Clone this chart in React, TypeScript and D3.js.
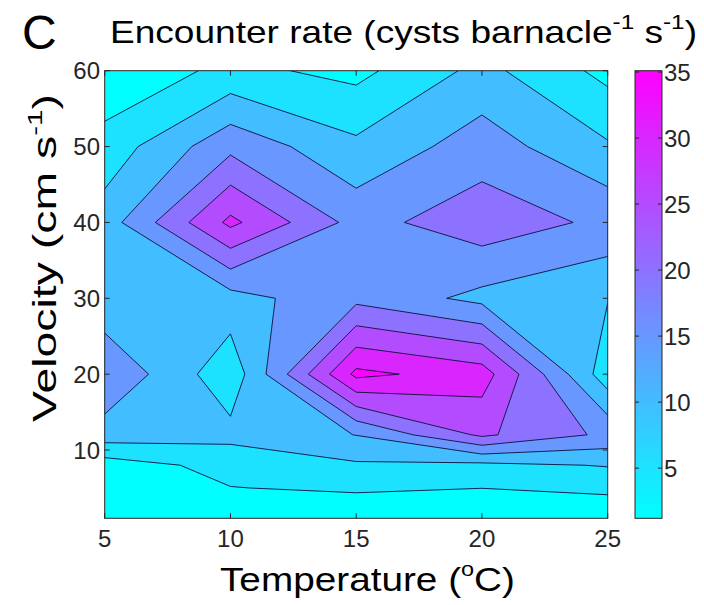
import React from "react";
import * as d3 from "d3";

// ---------------- data ----------------
const temperatures = [5, 10, 15, 20, 25]; // °C (grid columns)
const velocities = [1, 5, 8, 12, 20, 30, 40, 50, 60]; // cm s-1 (grid rows)

// Encounter rate (cysts barnacle-1 s-1) at each temperature, one array per velocity
const rateV1 = [1.2, 1.5, 1.3, 1.4, 1.2];
const rateV5 = [1.8, 4.88, 5.7, 5.04, 6.1];
const rateV8 = [2.45, 6.7, 9.3, 8.7, 10.3];
const rateV12 = [12.65, 11.5, 15.1, 25.9, 18.85];
const rateV20 = [19.5, 6.6, 36.3, 32.5, 7.0];
const rateV30 = [11.2, 13.0, 18.6, 13.6, 10.2];
const rateV40 = [12.45, 31.2, 18.2, 22.9, 18.9];
const rateV50 = [6.9, 18.6, 11.1, 17.5, 10.6];
const rateV60 = [1.2, 6.3, 3.57, 11.5, 3.5];

const contourLevels = [5, 10, 15, 20, 25, 30, 35];
const xTicks = [5, 10, 15, 20, 25];
const yTicks = [10, 20, 30, 40, 50, 60];
const colorbarTicks = [5, 10, 15, 20, 25, 30, 35];
const colorRange = [1.2, 35.1];
const xDomain = [5, 25];
const yDomain = [1, 60];

// ---------------- layout ----------------
const W = 704;
const H = 605;
const P = { left: 104.7, right: 607.7, top: 70.7, bottom: 518.3 };
const CB = { left: 635, right: 662 };
const FONT = "'Liberation Sans', Arial, Helvetica, sans-serif";

const cool = (v: number) => {
  const t = Math.max(0, Math.min(1, (v - colorRange[0]) / (colorRange[1] - colorRange[0])));
  return d3.rgb(255 * t, 255 * (1 - t), 255).formatHex();
};

export default function App() {
  const grid = [rateV1, rateV5, rateV8, rateV12, rateV20, rateV30, rateV40, rateV50, rateV60];
  const nx = temperatures.length;
  const ny = velocities.length;
  const values = grid.flat();

  const xScale = d3.scaleLinear().domain(xDomain).range([P.left, P.right]);
  const yScale = d3.scaleLinear().domain(yDomain).range([P.bottom, P.top]);
  const cScale = d3.scaleLinear().domain(colorRange).range([P.bottom, P.top]);

  const idxToTemp = d3.scaleLinear().domain(d3.range(nx)).range(temperatures);
  const idxToVel = d3.scaleLinear().domain(d3.range(ny)).range(velocities);

  const contours = d3.contours().size([nx, ny]).thresholds(contourLevels)(values);

  const toPx = (p: number[]) => {
    const x = xScale(idxToTemp(p[0] - 0.5));
    const y = yScale(idxToVel(p[1] - 0.5));
    return x.toFixed(2) + "," + y.toFixed(2);
  };
  const pathOf = (mp: any) =>
    mp.coordinates
      .map((poly: number[][][]) =>
        poly.map((ring) => "M" + ring.map(toPx).join("L") + "Z").join("")
      )
      .join("");

  const tickLen = 5;
  const axisColor = "#262626";
  const tickFont = 24;

  return (
    <svg
      width={W}
      height={H}
      viewBox={`0 0 ${W} ${H}`}
      style={{ position: "absolute", left: 0, top: 0, background: "#fff" }}
      fontFamily={FONT}
    >
      <defs>
        <clipPath id="plotClip">
          <rect x={P.left} y={P.top} width={P.right - P.left} height={P.bottom - P.top} />
        </clipPath>
        <linearGradient id="coolGrad" x1="0" y1="1" x2="0" y2="0">
          <stop offset="0" stopColor={cool(colorRange[0])} />
          <stop offset="1" stopColor={cool(colorRange[1])} />
        </linearGradient>
      </defs>
      <rect x={0} y={0} width={W} height={H} fill="#fff" />

      {/* filled contours */}
      <g clipPath="url(#plotClip)">
        <rect
          x={P.left}
          y={P.top}
          width={P.right - P.left}
          height={P.bottom - P.top}
          fill={cool(colorRange[0])}
        />
        {contours.map((c, i) => (
          <path key={"f" + i} d={pathOf(c)} fill={cool(c.value)} fillRule="evenodd" stroke="none" />
        ))}
        {contours.map((c, i) => (
          <path
            key={"s" + i}
            d={pathOf(c)}
            fill="none"
            stroke="#10103a"
            strokeWidth={0.9}
            strokeLinejoin="round"
          />
        ))}
      </g>

      {/* axes box */}
      <rect
        x={P.left}
        y={P.top}
        width={P.right - P.left}
        height={P.bottom - P.top}
        fill="none"
        stroke={axisColor}
        strokeWidth={1}
      />
      {xTicks.map((t) => (
        <g key={"xt" + t}>
          <line x1={xScale(t)} x2={xScale(t)} y1={P.bottom} y2={P.bottom - tickLen} stroke={axisColor} />
          <line x1={xScale(t)} x2={xScale(t)} y1={P.top} y2={P.top + tickLen} stroke={axisColor} />
          <text x={xScale(t)} y={547} fontSize={tickFont} textAnchor="middle" fill={axisColor}>
            {t}
          </text>
        </g>
      ))}
      {yTicks.map((t) => (
        <g key={"yt" + t}>
          <line x1={P.left} x2={P.left + tickLen} y1={yScale(t)} y2={yScale(t)} stroke={axisColor} />
          <line x1={P.right} x2={P.right - tickLen} y1={yScale(t)} y2={yScale(t)} stroke={axisColor} />
          <text x={100} y={yScale(t) + 8.6} fontSize={tickFont} textAnchor="end" fill={axisColor}>
            {t}
          </text>
        </g>
      ))}

      {/* colorbar */}
      <rect
        x={CB.left}
        y={P.top}
        width={CB.right - CB.left}
        height={P.bottom - P.top}
        fill="url(#coolGrad)"
        stroke={axisColor}
        strokeWidth={1}
      />
      {colorbarTicks.map((t) => (
        <g key={"ct" + t}>
          <line x1={CB.left} x2={CB.left + 4} y1={cScale(t)} y2={cScale(t)} stroke={axisColor} />
          <line x1={CB.right} x2={CB.right - 4} y1={cScale(t)} y2={cScale(t)} stroke={axisColor} />
          <text x={664} y={cScale(t) + 8.6} fontSize={tickFont} textAnchor="start" fill={axisColor}>
            {t}
          </text>
        </g>
      ))}

      {/* panel letter and title */}
      <text x={22} y={49} fontSize={48} fill="#000">
        C
      </text>
      <text x={110} y={43} fontSize={32} fill="#000" textLength={587} lengthAdjust="spacingAndGlyphs">
        Encounter rate (cysts barnacle
        <tspan dy={-14} fontSize={21}>
          -1
        </tspan>
        <tspan dy={14}>{" s"}</tspan>
        <tspan dy={-14} fontSize={21}>
          -1
        </tspan>
        <tspan dy={14}>)</tspan>
      </text>

      {/* axis labels */}
      <text x={220} y={591} fontSize={33} fill="#000" textLength={295} lengthAdjust="spacingAndGlyphs">
        Temperature (
        <tspan dy={-15} fontSize={20}>
          o
        </tspan>
        <tspan dy={15}>C)</tspan>
      </text>
      <text
        transform="translate(56,258) rotate(-90)"
        textAnchor="middle"
        fontSize={33}
        fill="#000"
        textLength={328}
        lengthAdjust="spacingAndGlyphs"
      >
        Velocity (cm s
        <tspan dy={-14} fontSize={21}>
          -1
        </tspan>
        <tspan dy={14}>)</tspan>
      </text>
    </svg>
  );
}
